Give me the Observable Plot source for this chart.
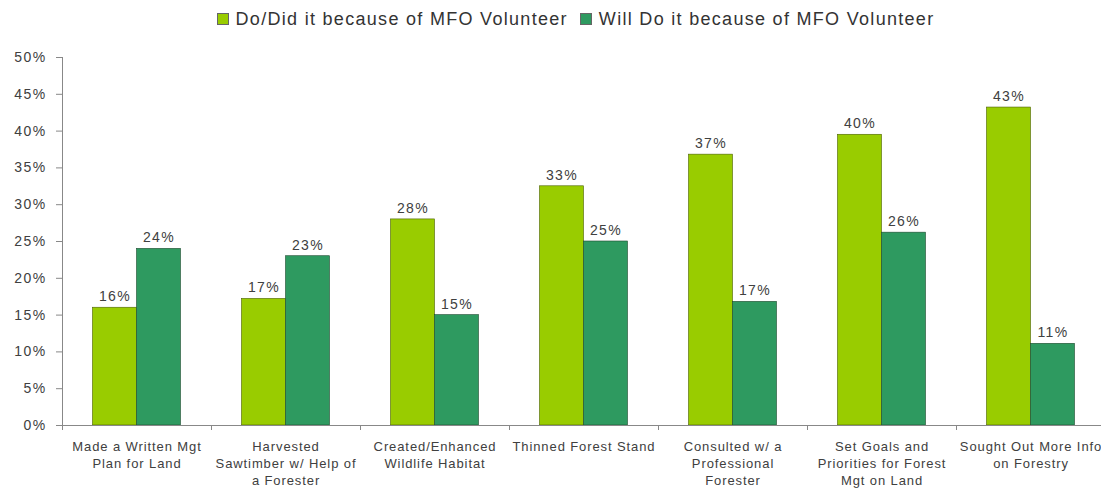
<!DOCTYPE html>
<html>
<head>
<meta charset="utf-8">
<script src="https://cdn.jsdelivr.net/npm/d3@7"></script>
<script src="https://cdn.jsdelivr.net/npm/@observablehq/plot@0.6"></script>
<style>
  html, body { margin: 0; padding: 0; background: #fff; overflow: hidden; }
  body { font-family: "Liberation Sans", Arial, sans-serif; }
  #legend { height: 36px; display: flex; justify-content: center; align-items: center; gap: 12px; font-size: 18px; letter-spacing: 1.3px; color: #333; padding-left: 50px; padding-top: 2px; box-sizing: border-box; }
  #legend span.sw { display: inline-block; width: 10px; height: 10px; margin-right: 7px; vertical-align: 0px; border: 0.5px solid #666; }
  #chart svg { max-width: none !important; }
  #chart g[aria-label="y-axis tick label"] text { letter-spacing: 1.4px; }
  #chart g[aria-label="x-axis tick label"] text { letter-spacing: 0.9px; }
  #chart g[aria-label="text"] text { letter-spacing: 1.4px; }
</style>
</head>
<body>
<div id="legend"></div>
<div id="chart"></div>
<script>
const categories = [
  "Made a Written Mgt\nPlan for Land",
  "Harvested\nSawtimber w/ Help of\na Forester",
  "Created/Enhanced\nWildlife Habitat",
  "Thinned Forest Stand",
  "Consulted w/ a\nProfessional\nForester",
  "Set Goals and\nPriorities for Forest\nMgt on Land",
  "Sought Out More Info\non Forestry"
];
const seriesNames = ["Do/Did it because of MFO Volunteer", "Will Do it because of MFO Volunteer"];
const doDid = [16, 17.2, 28, 32.5, 36.8, 39.5, 43.2];
const willDo = [24, 23, 15, 25, 16.8, 26.2, 11.1];
const yTicks = [0, 5, 10, 15, 20, 25, 30, 35, 40, 45, 50];
const colors = ["#99cc00", "#2e9a60"];

const data = [];
categories.forEach((c, i) => {
  data.push({category: c, series: seriesNames[0], value: doDid[i]});
  data.push({category: c, series: seriesNames[1], value: willDo[i]});
});

const legend = document.getElementById("legend");
seriesNames.forEach((s, i) => {
  const item = document.createElement("span");
  item.innerHTML = `<span class="sw" style="background:${colors[i]}"></span>${s}`;
  legend.appendChild(item);
});

const W = 1105, ML = 62, MR = 0;
const step = (W - ML - MR) / categories.length;
const barW = 44;
const half = step / 2;

const first = data.filter(d => d.series === seriesNames[0]);
const second = data.filter(d => d.series === seriesNames[1]);

const chart = Plot.plot({
  width: W,
  height: 457,
  marginLeft: ML,
  marginRight: MR,
  marginTop: 21,
  marginBottom: 68,
  style: {fontFamily: "Liberation Sans, Arial, sans-serif", color: "#404040", background: "#fff", maxWidth: "none"},
  x: {domain: categories, padding: 0, label: null},
  y: {domain: [0, 50], label: null},
  color: {domain: seriesNames, range: colors},
  marks: [
    Plot.barY(first, {x: "category", y: "value", fill: "series", insetLeft: half - barW, insetRight: half, stroke: "#4a6000", strokeWidth: 0.6}),
    Plot.barY(second, {x: "category", y: "value", fill: "series", insetLeft: half, insetRight: half - barW, stroke: "#1e4a30", strokeWidth: 0.6}),
    Plot.text(first, {x: "category", y: "value", text: d => Math.round(d.value) + "%", dx: -barW / 2, dy: -11, fontSize: 14, fill: "#404040"}),
    Plot.text(second, {x: "category", y: "value", text: d => Math.round(d.value) + "%", dx: barW / 2, dy: -11, fontSize: 14, fill: "#404040"}),
    Plot.axisY({ticks: yTicks, tickFormat: d => d + "%", tickSize: 6, tickPadding: 10, fontSize: 14, stroke: "#888", fill: "#404040"}),
    Plot.frame({anchor: "left", stroke: "#888"}),
    Plot.ruleY([0], {stroke: "#888"}),
    Plot.axisX({tickSize: 5, tickFormat: () => "", dx: -half, stroke: "#888"}),
    Plot.axisX({tickSize: 0, tickPadding: 14, fontSize: 13, lineHeight: 1.28, fill: "#404040"})
  ]
});
document.getElementById("chart").appendChild(chart);
</script>
</body>
</html>
